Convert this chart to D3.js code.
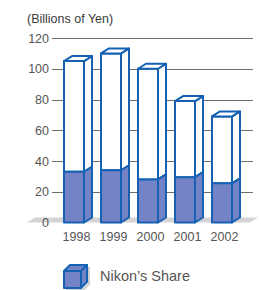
<!DOCTYPE html>
<html>
<head>
<meta charset="utf-8">
<script src="https://cdn.jsdelivr.net/npm/d3@7"></script>
<style>
  html, body { margin: 0; padding: 0; background: #fff; }
  svg { display: block; }
</style>
</head>
<body>
<svg id="chart"></svg>
<script>
const years = ['1998', '1999', '2000', '2001', '2002'];
const totals = [105, 110, 100, 79, 69];
const nikonShare = [33, 34, 28, 29.5, 25.5];
const yTicks = [0, 20, 40, 60, 80, 100, 120];

const width = 262;
const height = 290;
const blue = '#1561b3';
const blueFill = '#7383c6';
const textGrey = '#555555';
const font = '"Liberation Sans", Arial, sans-serif';

const barW = 20;
const dx = 8;
const dy = 5;

const svg = d3.select('#chart')
  .attr('width', width)
  .attr('height', height)
  .attr('viewBox', `0 0 ${width} ${height}`);

const x = d3.scalePoint().domain(years).range([74, 222]);
const y = d3.scaleLinear().domain([0, 120]).range([222.5, 38]);

svg.append('text')
  .attr('x', 27)
  .attr('y', 23)
  .attr('fill', '#3a3a3a')
  .attr('font-family', font)
  .attr('font-size', '12.5px')
  .text('(Billions of Yen)');

// floor
const fl = 27, fr = 250;
svg.append('path')
  .attr('d', `M${fl},${y(0)} L${fl + dx},${y(0) - dy} L${fr + dx},${y(0) - dy} L${fr},${y(0)} Z`)
  .attr('fill', '#d5d3d3');

// grid
svg.selectAll('.grid')
  .data(yTicks.filter(d => d > 0))
  .enter()
  .append('line')
  .attr('x1', 52)
  .attr('x2', 253)
  .attr('y1', d => Math.round(y(d)) + 0.5)
  .attr('y2', d => Math.round(y(d)) + 0.5)
  .attr('stroke', '#6e6e6e')
  .attr('stroke-width', 1);

svg.selectAll('.ytick')
  .data(yTicks)
  .enter()
  .append('text')
  .attr('x', 49)
  .attr('y', d => y(d) + 4.5)
  .attr('text-anchor', 'end')
  .attr('fill', textGrey)
  .attr('font-family', font)
  .attr('font-size', '12.5px')
  .text(d => d);

const bars = years.map((yr, i) => ({ year: yr, total: totals[i], share: nikonShare[i] }));

const g = svg.selectAll('.bar')
  .data(bars)
  .enter()
  .append('g')
  .attr('class', 'bar')
  .attr('stroke', blue)
  .attr('stroke-width', 2)
  .attr('stroke-linejoin', 'round');

function side(x1, yb, yt) {
  return `M${x1},${yb} L${x1 + dx},${yb - dy} L${x1 + dx},${yt - dy} L${x1},${yt} Z`;
}

g.append('rect')
  .attr('x', d => x(d.year) - barW / 2)
  .attr('y', d => y(d.total))
  .attr('width', barW)
  .attr('height', d => y(d.share) - y(d.total))
  .attr('fill', '#fff');

g.append('rect')
  .attr('x', d => x(d.year) - barW / 2)
  .attr('y', d => y(d.share))
  .attr('width', barW)
  .attr('height', d => y(0) - y(d.share))
  .attr('fill', blueFill);

g.append('path')
  .attr('d', d => side(x(d.year) + barW / 2, y(d.share), y(d.total)))
  .attr('fill', '#fff');

g.append('path')
  .attr('d', d => side(x(d.year) + barW / 2, y(0), y(d.share)))
  .attr('fill', blueFill);

g.append('path')
  .attr('d', d => {
    const x0 = x(d.year) - barW / 2, x1 = x0 + barW, yt = y(d.total);
    return `M${x0},${yt} L${x0 + dx},${yt - dy} L${x1 + dx},${yt - dy} L${x1},${yt} Z`;
  })
  .attr('fill', '#fff');

svg.selectAll('.xlab')
  .data(years)
  .enter()
  .append('text')
  .attr('x', d => x(d) + 2.5)
  .attr('y', 241)
  .attr('text-anchor', 'middle')
  .attr('fill', textGrey)
  .attr('font-family', font)
  .attr('font-size', '12.5px')
  .text(d => d);

// legend
const lg = svg.append('g')
  .attr('stroke', blue)
  .attr('stroke-width', 2)
  .attr('stroke-linejoin', 'round');
const lx = 64, ly = 271, ls = 17, ld = 6;
lg.append('path')
  .attr('d', `M${lx + 2},${ly + ls + 2} L${lx + ls + 2},${ly + ls + 2} L${lx + ls + ld + 2},${ly + ls - ld + 2} L${lx + ls + ld + 2},${ly - ld + 2}`)
  .attr('fill', 'none')
  .attr('stroke', '#cfcfcf')
  .attr('stroke-width', 2);
lg.append('rect')
  .attr('x', lx).attr('y', ly).attr('width', ls).attr('height', ls)
  .attr('fill', blueFill);
lg.append('path')
  .attr('d', `M${lx},${ly} L${lx + ld},${ly - ld} L${lx + ls + ld},${ly - ld} L${lx + ls},${ly} Z`)
  .attr('fill', blueFill);
lg.append('path')
  .attr('d', `M${lx + ls},${ly} L${lx + ls + ld},${ly - ld} L${lx + ls + ld},${ly + ls - ld} L${lx + ls},${ly + ls} Z`)
  .attr('fill', blueFill);

svg.append('text')
  .attr('x', 100)
  .attr('y', 281)
  .attr('fill', textGrey)
  .attr('font-family', font)
  .attr('font-size', '14.5px')
  .text('Nikon’s Share');
</script>
</body>
</html>
